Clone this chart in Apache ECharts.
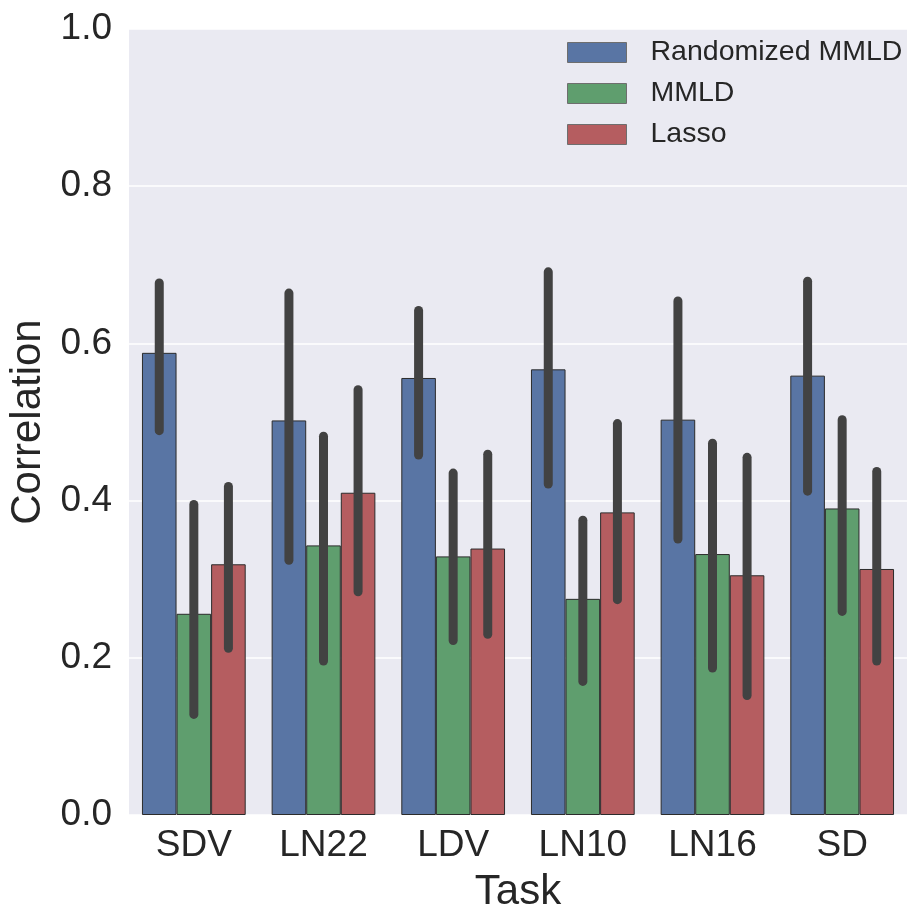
<!DOCTYPE html>
<html>
<head>
<meta charset="utf-8">
<script src="https://cdn.jsdelivr.net/npm/echarts@6/dist/echarts.min.js"></script>
<style>
  html, body { margin: 0; padding: 0; background: #ffffff; }
  #chart { width: 907px; height: 912px; }
</style>
</head>
<body>
<div id="chart"></div>
<script>
// Tasks along the x axis
var tasks = ['SDV', 'LN22', 'LDV', 'LN10', 'LN16', 'SD'];
var yTicks = [0.0, 0.2, 0.4, 0.6, 0.8, 1.0];

// Mean correlation per method
var randMMLD = [0.588, 0.502, 0.556, 0.567, 0.503, 0.559];
var mmld     = [0.256, 0.343, 0.329, 0.275, 0.332, 0.390];
var lasso    = [0.319, 0.410, 0.339, 0.385, 0.305, 0.313];

// Confidence interval bounds per method
var randLo  = [0.489, 0.324, 0.458, 0.421, 0.351, 0.412];
var randHi  = [0.677, 0.664, 0.642, 0.691, 0.654, 0.679];
var mmldLo  = [0.128, 0.196, 0.222, 0.170, 0.187, 0.259];
var mmldHi  = [0.395, 0.482, 0.435, 0.375, 0.473, 0.503];
var lassoLo = [0.212, 0.284, 0.230, 0.274, 0.152, 0.196];
var lassoHi = [0.418, 0.541, 0.459, 0.498, 0.455, 0.437];

var names = ['Randomized MMLD', 'MMLD', 'Lasso'];
var colors = ['#5975a4', '#5f9e6e', '#b55d60'];
var means = [randMMLD, mmld, lasso];
var lows = [randLo, mmldLo, lassoLo];
var highs = [randHi, mmldHi, lassoHi];

var FONT = '"Liberation Sans", Arial, Helvetica, sans-serif';
var TEXT = '#262626';

var chart = echarts.init(document.getElementById('chart'), null, { renderer: 'canvas' });

var series = [];
names.forEach(function (name, i) {
  series.push({
    name: name,
    type: 'bar',
    data: means[i],
    barGap: '0%',
    barCategoryGap: '20%',
    itemStyle: { color: colors[i], borderColor: '#2b2b2b', borderWidth: 1 },
    emphasis: { disabled: true },
    z: 2
  });
});

// Confidence interval lines, centred on each bar of the group
names.forEach(function (name, i) {
  var data = tasks.map(function (t, k) { return [k, lows[i][k], highs[i][k]]; });
  series.push({
    type: 'custom',
    name: name + ' CI',
    data: data,
    z: 10,
    silent: true,
    encode: { x: 0, y: [1, 2] },
    renderItem: function (params, api) {
      var k = api.value(0);
      var band = api.size([1, 0])[0];
      var bw = band * 0.8 / 3;
      var off = (i - 1) * bw;
      var p1 = api.coord([k, api.value(1)]);
      var p2 = api.coord([k, api.value(2)]);
      return {
        type: 'line',
        shape: { x1: p1[0] + off, y1: p1[1], x2: p2[0] + off, y2: p2[1] },
        style: { stroke: '#424242', lineWidth: 9, lineCap: 'round' }
      };
    }
  });
});

chart.setOption({
  animation: false,
  backgroundColor: '#ffffff',
  grid: {
    left: 129, right: 0, top: 29, bottom: 97,
    containLabel: false, outerBoundsMode: 'none',
    show: true, backgroundColor: '#eaeaf2', borderWidth: 0
  },
  legend: {
    data: names,
    orient: 'vertical',
    left: 567,
    top: 38,
    padding: 0,
    itemWidth: 59,
    itemHeight: 20,
    itemGap: 12,
    icon: 'rect',
    itemStyle: { borderColor: '#6e6e6e', borderWidth: 1 },
    textStyle: { fontFamily: FONT, fontSize: 28.5, color: TEXT, padding: [0, 0, 0, 19] }
  },
  xAxis: {
    type: 'category',
    data: tasks,
    name: 'Task',
    nameLocation: 'middle',
    nameGap: 56,
    nameTextStyle: { fontFamily: FONT, fontSize: 42, color: TEXT },
    axisLine: { show: false },
    axisTick: { show: false },
    axisLabel: { fontFamily: FONT, fontSize: 37, color: TEXT, margin: 12 },
    splitLine: { show: false }
  },
  yAxis: {
    type: 'value',
    min: 0,
    max: 1,
    interval: 0.2,
    name: 'Correlation',
    nameLocation: 'middle',
    nameGap: 78,
    nameTextStyle: { fontFamily: FONT, fontSize: 42, color: TEXT },
    axisLine: { show: false },
    axisTick: { show: false },
    axisLabel: {
      fontFamily: FONT, fontSize: 37, color: TEXT, margin: 17,
      formatter: function (v) {
        var hit = yTicks.filter(function (t) { return Math.abs(t - v) < 1e-9; });
        return hit.length ? hit[0].toFixed(1) : '';
      }
    },
    splitLine: { show: true, lineStyle: { color: '#ffffff', width: 1.6 } }
  },
  series: series
});
</script>
</body>
</html>
